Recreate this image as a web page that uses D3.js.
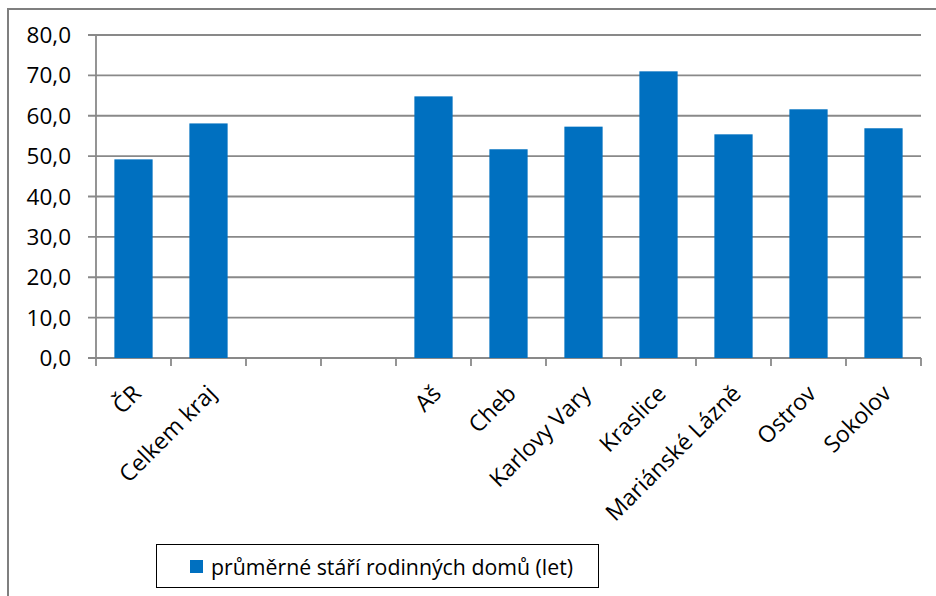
<!DOCTYPE html>
<html>
<head>
<meta charset="utf-8">
<script src="https://cdn.jsdelivr.net/npm/d3@7"></script>
<style>
  body { margin: 0; background: #fff; }
  text { font-family: "Open Sans", "Noto Sans", sans-serif; fill: #000; }
</style>
</head>
<body>
<script>
//chart data
var categories = ["ČR", "Celkem kraj", "", " ", "Aš", "Cheb", "Karlovy Vary", "Kraslice", "Mariánské Lázně", "Ostrov", "Sokolov"];
var values = [49.2, 58.1, null, null, 64.8, 51.7, 57.3, 71.0, 55.4, 61.6, 56.9];
var yTicks = [0, 10, 20, 30, 40, 50, 60, 70, 80];
var seriesName = "průměrné stáří rodinných domů (let)";

window.onload = drawChart();

function drawChart(){
    var width = 936,
        height = 596;

    var svg = d3.select("body")
        .append("svg")
        .attr("width", width)
        .attr("height", height);

    //outer chart frame (only top and left edges show)
    svg.append("path")
        .attr("d", "M8,596V9H936")
        .attr("fill", "none")
        .attr("stroke", "#7f7f7f")
        .attr("stroke-width", 2);

    var left = 96, right = 921, top = 35, bottom = 358;

    var x = d3.scaleBand()
        .domain(categories)
        .range([left, right])
        .paddingInner(0.49)
        .paddingOuter(0.245);

    var slots = d3.scaleBand()
        .domain(categories)
        .range([left, right]);

    var y = d3.scaleLinear()
        .domain([0, 80])
        .range([bottom, top]);

    //gridlines
    svg.selectAll(".grid")
        .data(yTicks)
        .enter()
        .append("line")
        .attr("class", "grid")
        .attr("x1", left - 8)
        .attr("x2", right)
        .attr("y1", function(d){ return y(d); })
        .attr("y2", function(d){ return y(d); })
        .attr("stroke", "#898989")
        .attr("stroke-width", 1.8);

    //y axis line
    svg.append("line")
        .attr("x1", left).attr("x2", left)
        .attr("y1", top).attr("y2", bottom)
        .attr("stroke", "#898989")
        .attr("stroke-width", 1.8);

    //y labels
    svg.selectAll(".ylab")
        .data(yTicks)
        .enter()
        .append("text")
        .attr("class", "ylab")
        .attr("x", 71)
        .attr("y", function(d){ return y(d) + 8; })
        .attr("text-anchor", "end")
        .style("font-size", "22.5px")
        .text(function(d){ return d3.format(".1f")(d).replace(".", ","); });

    //x ticks at slot boundaries
    var bounds = categories.map(function(c){ return slots(c); }).concat([right]);
    svg.selectAll(".xtick")
        .data(bounds)
        .enter()
        .append("line")
        .attr("x1", function(d){ return d; })
        .attr("x2", function(d){ return d; })
        .attr("y1", bottom)
        .attr("y2", bottom + 8)
        .attr("stroke", "#898989")
        .attr("stroke-width", 1.8);

    //bars
    svg.selectAll(".bar")
        .data(categories.map(function(c, i){ return {c: c, v: values[i]}; })
            .filter(function(d){ return d.v != null; }))
        .enter()
        .append("rect")
        .attr("class", "bar")
        .attr("x", function(d){ return x(d.c); })
        .attr("width", x.bandwidth())
        .attr("y", function(d){ return y(d.v); })
        .attr("height", function(d){ return bottom - y(d.v); })
        .attr("fill", "#0070c0");

    //x labels rotated
    svg.selectAll(".xlab")
        .data(categories.filter(function(c){ return c.trim() !== ""; }))
        .enter()
        .append("text")
        .attr("class", "xlab")
        .attr("text-anchor", "end")
        .style("font-size", "23px")
        .attr("transform", function(d){
            var cx = slots(d) + slots.bandwidth() / 2 + 9;
            return "translate(" + cx + "," + 395 + ") rotate(-45)";
        })
        .text(function(d){ return d; });

    //legend
    svg.append("rect")
        .attr("x", 156.5).attr("y", 544.5)
        .attr("width", 442).attr("height", 43)
        .attr("fill", "none")
        .attr("stroke", "#000")
        .attr("stroke-width", 1);
    svg.append("rect")
        .attr("x", 190).attr("y", 560)
        .attr("width", 13).attr("height", 13)
        .attr("fill", "#0070c0");
    svg.append("text")
        .attr("x", 211)
        .attr("y", 575)
        .style("font-size", "21.3px")
        .text(seriesName);
};
</script>
</body>
</html>
